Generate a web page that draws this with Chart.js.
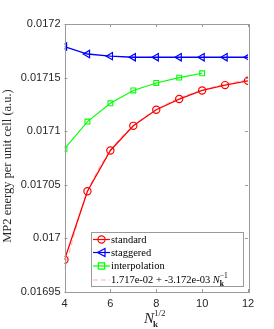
<!DOCTYPE html>
<html><head><meta charset="utf-8">
<script src="https://cdn.jsdelivr.net/npm/chart.js@4/dist/chart.umd.min.js"></script>
<style>html,body{margin:0;padding:0;background:#fff}#wrap{width:274px;height:329px}</style>
</head><body><div id="wrap"><canvas id="c" width="274" height="329"></canvas></div>
<script>
const nkHalf = [4,5,6,7,8,9,10,11,12];
const nkHalfInterp = [4,5,6,7,8,9,10];
const standard = [0.016980,0.017044,0.017082,0.017105,0.017120,0.017130,0.017138,0.017143,0.017147];
const staggered = [0.017179,0.017172,0.017170,0.017169,0.017169,0.017169,0.017169,0.017169,0.017169];
const interpolation = [0.0170835,0.017109,0.017126,0.017138,0.017145,0.017150,0.017154];
const fitLine = [0.016972,0.017043,0.017082,0.017105,0.017120,0.017131,0.017138,0.017144,0.017148];
const yTickValues = [0.01695,0.017,0.01705,0.0171,0.01715,0.0172];
const yTickLabels = ['0.01695','0.017','0.01705','0.0171','0.01715','0.0172'];
const xTickValues = [4,6,8,10,12];
const xTickLabels = ['4','6','8','10','12'];
const legendLabels = ['standard','staggered','interpolation','1.717e-02 + -3.172e-03 '];

const pts = (xs, ys) => xs.map((x,i)=>({x:x,y:ys[i]}));

const PL = 64.5, PR = 248, PT = 24, PB = 292;
const AX = '#9a9a9a';

function drawMarker(ctx, style, x, y, color){
  ctx.save(); ctx.strokeStyle=color; ctx.lineWidth=1.2; ctx.beginPath();
  if(style==='circle'){ ctx.arc(x,y,3.6,0,Math.PI*2); }
  else if(style==='rect'){ ctx.rect(x-3.2,y-3.2,6.4,6.4); }
  else if(style==='tri'){ ctx.moveTo(x-4,y); ctx.lineTo(x+3.5,y-4); ctx.lineTo(x+3.5,y+4); ctx.closePath(); }
  ctx.stroke(); ctx.restore();
}

const decor = {
  id:'decor',
  afterDraw(chart){
    const ctx = chart.ctx, xs = chart.scales.x, ys = chart.scales.y;
    const a = chart.chartArea;
    ctx.save();
    ctx.strokeStyle = AX; ctx.lineWidth = 1;
    ctx.strokeRect(Math.round(a.left)+0.5, Math.round(a.top)+0.5, Math.round(a.right-a.left), Math.round(a.bottom-a.top));
    ctx.beginPath();
    xTickValues.forEach(v=>{ const p=Math.round(xs.getPixelForValue(v))+0.5;
      ctx.moveTo(p,a.bottom); ctx.lineTo(p,a.bottom-3); ctx.moveTo(p,a.top); ctx.lineTo(p,a.top+3); });
    yTickValues.forEach(v=>{ const p=Math.round(ys.getPixelForValue(v))+0.5;
      ctx.moveTo(a.left,p); ctx.lineTo(a.left+3,p); ctx.moveTo(a.right,p); ctx.lineTo(a.right-3,p); });
    ctx.stroke();

    // legend
    const lx=91.5, ly=232.5, lw=152, lh=54;
    ctx.fillStyle='#fff'; ctx.fillRect(lx,ly,lw,lh);
    ctx.strokeStyle=AX; ctx.strokeRect(lx,ly,lw,lh);
    const rows=[239.5,252.5,266,280];
    const cols=['#ff0000','#0000ff','#00ff00','#ffb0b0'];
    const mk=['circle','tri','rect',null];
    ctx.font='10.5px "Liberation Serif", serif'; ctx.textBaseline='middle'; ctx.textAlign='left';
    for(let i=0;i<4;i++){
      const y=rows[i];
      ctx.save(); ctx.strokeStyle=cols[i]; ctx.lineWidth= i===3?1:1.2;
      if(i===3) ctx.setLineDash([5,3]);
      ctx.beginPath(); ctx.moveTo(93,y); ctx.lineTo(110,y); ctx.stroke(); ctx.restore();
      if(mk[i]) drawMarker(ctx,mk[i],101.5,y,cols[i]);
      ctx.fillStyle='#000'; ctx.fillText(legendLabels[i],111,y+0.5);
    }
    // N_k^{-1}
    let tx = 111 + ctx.measureText(legendLabels[3]).width;
    ctx.font='italic 10.5px "Liberation Serif", serif'; ctx.fillText('N',tx,280.5);
    const nw = ctx.measureText('N').width;
    ctx.font='bold 7.5px "Liberation Serif", serif'; ctx.fillText('k',tx+nw,284);
    ctx.font='7.5px "Liberation Serif", serif'; ctx.fillText('\u22121',tx+nw,276);

    // y title
    ctx.save(); ctx.translate(8,166); ctx.rotate(-Math.PI/2);
    ctx.font='12.5px "Liberation Serif", serif'; ctx.textAlign='center'; ctx.textBaseline='middle';
    ctx.fillStyle='#262626'; ctx.fillText('MP2 energy per unit cell (a.u.)',0,0); ctx.restore();

    // x title
    ctx.fillStyle='#262626'; ctx.textBaseline='alphabetic'; ctx.textAlign='left';
    ctx.font='italic 15px "Liberation Serif", serif'; ctx.fillText('N',144,323);
    const w2 = ctx.measureText('N').width;
    ctx.font='bold 9px "Liberation Serif", serif'; ctx.fillText('k',144+w2-1,327);
    ctx.font='9px "Liberation Serif", serif'; ctx.fillText('1/2',144+w2,316);
    ctx.restore();
  }
};

new Chart(document.getElementById('c'), {
  type:'line',
  data:{ datasets:[
    {label:'standard', data:pts(nkHalf,standard), borderColor:'#ff0000', backgroundColor:'rgba(0,0,0,0)', borderWidth:1.3, pointStyle:'circle', pointRadius:3.6, pointBorderWidth:1.2, pointBackgroundColor:'rgba(0,0,0,0)', pointBorderColor:'#ff0000'},
    {label:'staggered', data:pts(nkHalf,staggered), borderColor:'#0000ff', backgroundColor:'rgba(0,0,0,0)', borderWidth:1.3, pointStyle:'triangle', rotation:-90, pointRadius:4.2, pointBorderWidth:1.2, pointBackgroundColor:'rgba(0,0,0,0)', pointBorderColor:'#0000ff'},
    {label:'interpolation', data:pts(nkHalfInterp,interpolation), borderColor:'#00ff00', backgroundColor:'rgba(0,0,0,0)', borderWidth:1.1, pointStyle:'rect', pointRadius:3.4, pointBorderWidth:1.1, pointBackgroundColor:'rgba(0,0,0,0)', pointBorderColor:'#00ff00'},
    {label:'fit', data:pts(nkHalf,fitLine), borderColor:'#ffb0b0', borderDash:[5,3], borderWidth:1, pointRadius:0, cubicInterpolationMode:'monotone'}
  ]},
  options:{
    responsive:false, animation:false, events:[],
    layout:{padding:{top:PT, right:274-PR, left:0, bottom:0}},
    plugins:{legend:{display:false}, tooltip:{enabled:false}},
    scales:{
      x:{type:'linear', min:4, max:12,
        afterBuildTicks(s){ s.ticks = xTickValues.map(v=>({value:v})); },
        afterFit(s){ s.height = 329-PB; },
        grid:{display:false, drawTicks:false, tickLength:0}, border:{display:false},
        ticks:{callback:(v)=>{const i=xTickValues.indexOf(v); return i>=0?xTickLabels[i]:'';}, color:'#262626', font:{family:'"Liberation Sans", Arial, sans-serif', size:11}, padding:5, maxRotation:0}
      },
      y:{type:'linear', min:0.01695, max:0.0172,
        afterBuildTicks(s){ s.ticks = yTickValues.map(v=>({value:v})); },
        afterFit(s){ s.width = PL; },
        grid:{display:false, drawTicks:false, tickLength:0}, border:{display:false},
        ticks:{callback:(v)=>{let best=0;yTickValues.forEach((t,i)=>{if(Math.abs(t-v)<Math.abs(yTickValues[best]-v))best=i;});return yTickLabels[best];}, color:'#262626', font:{family:'"Liberation Sans", Arial, sans-serif', size:11}, padding:4}
      }
    }
  },
  plugins:[decor]
});
</script></body></html>
